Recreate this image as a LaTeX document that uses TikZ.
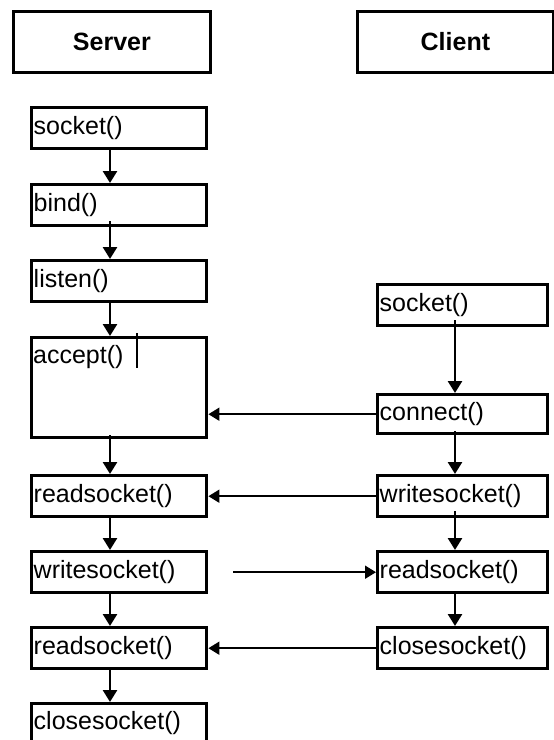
\documentclass[tikz,border=0pt]{standalone}
\usepackage{fontspec}
\setmainfont{Liberation Sans}
\usetikzlibrary{arrows.meta}
\begin{document}
\begin{tikzpicture}[x=1pt,y=-1pt,
 box/.style={draw, line width=3.4pt, minimum width=175pt, minimum height=41pt, anchor=north west,
   inner xsep=2pt, inner ysep=0pt, text width=171pt, align=left, font=\fontsize{25}{27}\selectfont},
 rbox/.style={box, minimum width=170pt, text width=166pt},
 hdr/.style={draw, line width=2.8pt, anchor=north west, minimum width=197pt, minimum height=61pt,
   font=\bfseries\fontsize{25}{27}\selectfont},
 flow/.style={line width=2.6pt, -{Triangle[length=12pt,width=14pt]}},
 msg/.style={line width=1.8pt, -{Triangle[length=11pt,width=13pt]}}]
\useasboundingbox (0,0) rectangle (554,740);
\coordinate (L) at (110,0);
\coordinate (R) at (455,0);
% headers
\node[hdr] (server) at (12,10) {Server};
\node[hdr, minimum width=196pt] (client) at (356,10) {Client};
% server column
\node[box] (s1) at (30,106) {socket()};
\node[box] (s2) at (30,183) {bind()};
\node[box] (s3) at (30,259) {listen()};
\node[box, minimum height=100pt] (s4) at (30,336) {};
\node[anchor=north west, inner sep=0pt, font=\fontsize{25}{27}\selectfont] (s4t) at (33,345) {accept()};
\draw[line width=2pt] (137,333) -- (137,368);
\node[box] (s5) at (30,474) {readsocket()};
\node[box] (s6) at (30,550) {writesocket()};
\node[box] (s7) at (30,626) {readsocket()};
\node[box, minimum height=38pt] (s8) at (30,702) {closesocket()};
% client column
\node[rbox] (c1) at (376,283) {socket()};
\node[rbox, minimum height=39pt] (c2) at (376,393) {connect()};
\node[rbox] (c3) at (376,474) {writesocket()};
\node[rbox] (c4) at (376,550) {readsocket()};
\node[rbox] (c5) at (376,626) {closesocket()};
% server flow
\draw[flow] (s1.south -| L) -- (s2.north -| L);
\draw[flow] ([yshift=6pt]s2.south -| L) -- (s3.north -| L);
\draw[flow] (s3.south -| L) -- (s4.north -| L);
\draw[flow] ([yshift=4pt]s4.south -| L) -- (s5.north -| L);
\draw[flow] (s5.south -| L) -- (s6.north -| L);
\draw[flow] (s6.south -| L) -- (s7.north -| L);
\draw[flow] (s7.south -| L) -- (s8.north -| L);
% client flow
\draw[flow] ([yshift=7pt]c1.south -| R) -- (c2.north -| R);
\draw[flow] ([yshift=4pt]c2.south -| R) -- (c3.north -| R);
\draw[flow] ([yshift=7pt]c3.south -| R) -- (c4.north -| R);
\draw[flow] ([yshift=3pt]c4.south -| R) -- (c5.north -| R);
% messages
\draw[msg] (c2.west) -- (c2.west -| s4.east);
\draw[msg] (c3.west) -- (s5.east);
\draw[msg] ([xshift=25pt]s6.east) -- (c4.west);
\draw[msg] (c5.west) -- (s7.east);
\end{tikzpicture}
\end{document}
